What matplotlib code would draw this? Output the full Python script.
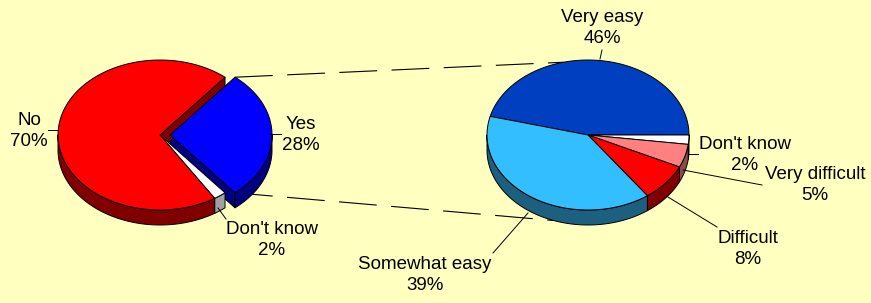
import numpy as np
import matplotlib.pyplot as plt
from matplotlib.patches import Polygon

# data <<<
left_labels = ["Yes", "Don't know", "No"]
left_values = [28, 2, 70]
right_labels = ["Very easy", "Don't know", "Very difficult", "Difficult", "Somewhat easy"]
right_values = [46, 2, 5, 8, 39]
# >>>

# styles <<<
bg = "#FFFFC0"
left_tops = ["#0000FF", "#FFFFFF", "#FF0000"]
left_sides = ["#000080", "#A0A0A0", "#800000"]
left_explode = [10, 0, 0]
right_tops = ["#0040C0", "#FFFFFF", "#FF8080", "#FF0000", "#33BFFF"]
right_sides = ["#002060", "#A0A0A0", "#8C4A4A", "#800000", "#1C5F7F"]
font = dict(family="Liberation Sans", size=13.5, color="black",
            ha="center", va="center", linespacing=1.3)
# >>>


def slice_angles(values, start_deg):
    # clockwise from start, returns (lo, hi) in radians (ccw order)
    total = float(sum(values))
    t = np.radians(start_deg)
    out = []
    for v in values:
        span = v / total * 2 * np.pi
        out.append((t - span, t))
        t -= span
    return out


def arc(cx, cy, a, b, t0, t1, dz=0.0, n=80):
    t = np.linspace(t0, t1, n)
    return np.column_stack([cx + a * np.cos(t), cy - b * np.sin(t) + dz])


def draw_pie(ax, values, start, cx, cy, a, b, d, tops, sides, explode, radial):
    angs = slice_angles(values, start)
    centers = []
    for (lo, hi), ex in zip(angs, explode):
        mid = (lo + hi) / 2
        centers.append((cx + ex * np.cos(mid), cy - ex * np.sin(mid)))
    kw = dict(edgecolor="black", linewidth=0.7, joinstyle="round")
    # radial faces
    if radial:
        for (lo, hi), (x0, y0), sc in zip(angs, centers, sides):
            for t, vis in ((lo, np.cos(lo) > 0), (hi, np.cos(hi) < 0)):
                if not vis:
                    continue
                px, py = x0 + a * np.cos(t), y0 - b * np.sin(t)
                quad = [(x0, y0), (px, py), (px, py + d), (x0, y0 + d)]
                ax.add_patch(Polygon(quad, closed=True, facecolor=sc, zorder=2, **kw))
    # outer walls (front half)
    for (lo, hi), (x0, y0), sc in zip(angs, centers, sides):
        for k in range(-2, 3):
            s = max(lo, np.pi + 2 * np.pi * k)
            e = min(hi, 2 * np.pi + 2 * np.pi * k)
            if e > s:
                pts = np.vstack([arc(x0, y0, a, b, s, e),
                                 arc(x0, y0, a, b, e, s, dz=d)])
                ax.add_patch(Polygon(pts, closed=True, facecolor=sc, zorder=3, **kw))
    # top faces
    for (lo, hi), (x0, y0), tc in zip(angs, centers, tops):
        pts = np.vstack([[(x0, y0)], arc(x0, y0, a, b, lo, hi)])
        ax.add_patch(Polygon(pts, closed=True, facecolor=tc, zorder=4, **kw))
    return angs, centers


fig = plt.figure(figsize=(8.71, 3.03), dpi=100, facecolor=bg)
ax = fig.add_axes([0, 0, 1, 1])
ax.set_xlim(0, 871)
ax.set_ylim(303, 0)
ax.set_facecolor(bg)
ax.axis("off")

# geometry (pixels)
L = dict(cx=160, cy=135, a=102, b=75, d=15)
R = dict(cx=588, cy=135, a=101, b=75, d=15)

langs, lcent = draw_pie(ax, left_values, left_values[0] / 100 * 180, L["cx"], L["cy"],
                        L["a"], L["b"], L["d"], left_tops, left_sides, left_explode, True)
draw_pie(ax, right_values, right_values[0] / 100 * 360, R["cx"], R["cy"],
         R["a"], R["b"], R["d"], right_tops, right_sides, [0] * 5, False)

# connector lines between the pies
yes_lo, yes_hi = langs[0]
yx, yy = lcent[0]
p_top = (yx + L["a"] * np.cos(yes_hi), yy - L["b"] * np.sin(yes_hi))
p_bot = (yx + L["a"] * np.cos(yes_lo), yy - L["b"] * np.sin(yes_lo))
q_top = (R["cx"] + R["a"] * np.cos(np.radians(104)), R["cy"] - R["b"] * np.sin(np.radians(104)))
q_bot = (R["cx"] + R["a"] * np.cos(np.radians(250)),
         R["cy"] - R["b"] * np.sin(np.radians(250)) + R["d"])
for p, q in ((p_top, q_top), (p_bot, q_bot)):
    ax.plot([p[0], q[0]], [p[1], q[1]], color="black", lw=0.8,
            dashes=(34, 13), zorder=1)

# labels and leader lines
left_text_xy = [(301, 135), (272, 240), (29, 131)]
left_leaders = [((270, 134), (281, 134)), ((218, 208), (226, 219)), ((48, 130), (58, 130))]
right_text_xy = [(602, 28), (745, 155), (815, 185), (748, 249), (425, 275)]
right_leaders = [((602, 50), (600, 59)), ((688, 154), (698, 154)), ((683, 170), (762, 185)),
                 ((668, 197), (717, 227)), ((528, 213), (493, 253))]

for lab, val, (x, y), (p, q) in zip(left_labels, left_values, left_text_xy, left_leaders):
    ax.text(x, y, f"{lab}\n{val}%", zorder=6, **font)
    ax.plot([p[0], q[0]], [p[1], q[1]], color="black", lw=0.7, zorder=5)
for lab, val, (x, y), (p, q) in zip(right_labels, right_values, right_text_xy, right_leaders):
    ax.text(x, y, f"{lab}\n{val}%", zorder=6, **font)
    ax.plot([p[0], q[0]], [p[1], q[1]], color="black", lw=0.7, zorder=5)

fig.savefig("out.png", dpi=100, facecolor=bg)
